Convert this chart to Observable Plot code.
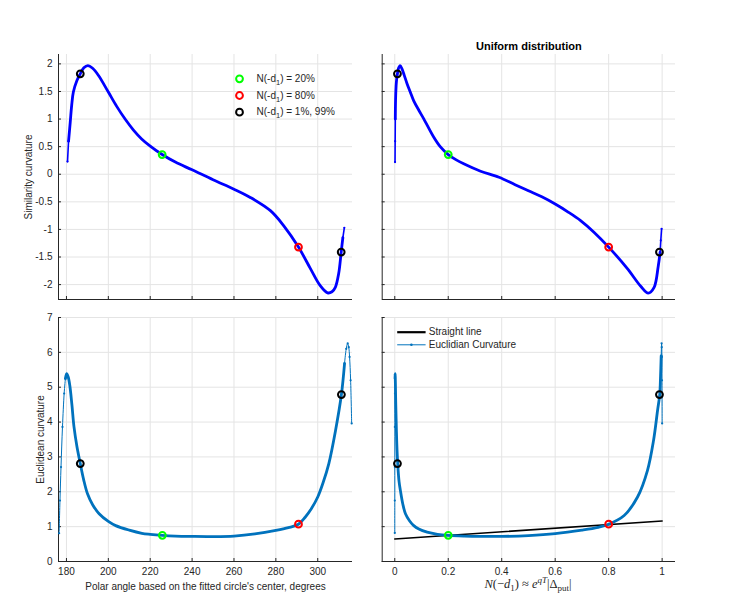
<!DOCTYPE html>
<html><head><meta charset="utf-8">
<script src="https://cdn.jsdelivr.net/npm/d3@7"></script>
<script src="https://cdn.jsdelivr.net/npm/@observablehq/plot@0.6"></script>
<style>
body{margin:0;background:#fff;}
#wrap{position:relative;width:734px;height:610px;background:#fff;font-family:"Liberation Sans",Arial,Helvetica,sans-serif;overflow:hidden;}
#wrap svg{position:absolute;overflow:visible;}
#xlab2{position:absolute;left:428px;width:200px;top:578px;text-align:center;font-family:"Liberation Serif","DejaVu Serif",serif;font-size:12.5px;color:#262626;line-height:12px;white-space:nowrap;}
#xlab2 sub{font-size:9px;vertical-align:-3px;line-height:0;}
#xlab2 sup{font-size:9px;vertical-align:5px;line-height:0;}
</style></head><body><div id="wrap"><div id="xlab2"><i>N</i>(&minus;<i>d</i><sub>1</sub>) &asymp; <i>e</i><sup><i>qT</i></sup>|&Delta;<sub>put</sub>|</div></div>
<script>
// ---------- data ----------
// Similarity curvature vs polar angle (top-left)
const simAngle = [180.5,181.0,181.8,182.5,183.3,185.0,186.6,188.3,190.2,192.5,195.3,200,204,208,212,215.9,220,225.7,232,240,250,260,267.8,277.4,283.7,290.8,296.5,301.2,304.7,306.8,308.4,310.0,311.2,312.0,312.7];
const simAngleVal = [0.23,0.6,0.94,1.25,1.49,1.7,1.82,1.93,1.97,1.92,1.79,1.49,1.23,1.0,0.8,0.64,0.51,0.357,0.22,0.08,-0.1,-0.27,-0.42,-0.66,-0.93,-1.32,-1.71,-2.02,-2.15,-2.13,-2.05,-1.80,-1.41,-1.15,-0.97];
// Similarity curvature vs N(-d1) (top-right)
const simN = [0.001,0.0015,0.002,0.003,0.005,0.007,0.01,0.014,0.02,0.027,0.035,0.046,0.058,0.071,0.09,0.109,0.146,0.17,0.2,0.23,0.258,0.321,0.39,0.45,0.5,0.55,0.6,0.65,0.695,0.745,0.8,0.87,0.92,0.948,0.97,0.985,0.9925,0.995,0.998];
const simNVal = [0.22,0.6,1.0,1.35,1.6,1.72,1.82,1.92,1.97,1.91,1.8,1.64,1.49,1.33,1.16,1.0,0.67,0.5,0.357,0.26,0.19,0.055,-0.055,-0.19,-0.3,-0.41,-0.54,-0.69,-0.84,-1.05,-1.32,-1.71,-2.03,-2.155,-2.05,-1.68,-1.41,-1.2,-0.99];
// Euclidean curvature vs polar angle (bottom-left)
const eucAngle = [176.5,176.9,177.4,178.1,178.9,179.5,180.1,180.8,181.6,182.6,183.6,185.0,186.6,188.2,190.0,192.5,195.6,200,203.5,210,216,220,225.8,232,240,250,260,270,280,286,290.8,294,297,300,302.5,305.3,308.5,311.3,312.8,313.6,314.3,314.8,315.2,315.7,316.2];
const eucAngleVal = [0.81,1.75,2.71,3.86,4.82,5.25,5.39,5.3,5.05,4.5,3.86,3.3,2.81,2.35,1.95,1.63,1.37,1.15,1.03,0.9,0.81,0.78,0.75,0.73,0.72,0.715,0.73,0.79,0.89,0.97,1.07,1.27,1.52,1.85,2.25,2.81,3.76,4.79,5.68,6.1,6.26,6.15,5.87,5.2,3.96];
// Euclidean curvature vs N(-d1) (bottom-right)
const eucN = [0,0.0001,0.0002,0.0004,0.0007,0.001,0.0013,0.0018,0.0025,0.0035,0.005,0.0075,0.011,0.016,0.021,0.03,0.04,0.055,0.071,0.09,0.121,0.16,0.2,0.26,0.32,0.4,0.5,0.6,0.7,0.76,0.8,0.858,0.908,0.945,0.968,0.983,0.991,0.994,0.9965,0.998,0.9985,0.999,0.9995,1.0];
const eucNVal = [0.82,1.75,2.71,3.86,4.82,5.25,5.39,5.3,5.05,4.6,4.1,3.4,2.81,2.3,2.04,1.65,1.37,1.17,1.03,0.93,0.84,0.78,0.75,0.73,0.72,0.72,0.745,0.8,0.9,0.98,1.07,1.32,1.85,2.61,3.48,4.34,4.79,5.3,5.9,6.26,6.15,5.87,5.2,3.96];
// straight line through the 20% and 80% points
const straightN = [0, 1];
const straightVal = [0.647, 1.163];
// highlighted points
const markerColors = ["#000000","#00ff00","#ff0000","#000000"];
const markAngleSim = [186.6, 225.7, 290.8, 311.2];
const markSimVal = [1.82, 0.357, -1.32, -1.41];
const markN = [0.01, 0.2, 0.8, 0.99];
const markAngleEuc = [186.6, 225.8, 290.8, 311.3];
const markEucVal = [2.81, 0.75, 1.07, 4.79];
// legends
const legendLabels = ["N(-d1) = 20%", "N(-d1) = 80%", "N(-d1) = 1%, 99%"];
const legendColors = ["#00ff00", "#ff0000", "#000000"];
const legend2Labels = ["Straight line", "Euclidian Curvature"];
// ticks
const angleTicks = [180,200,220,240,260,280,300];
const nTicks = [0,0.2,0.4,0.6,0.8,1];
const simTicks = [-2,-1.5,-1,-0.5,0,0.5,1,1.5,2];
const eucTicks = [0,1,2,3,4,5,6,7];

// ---------- drawing ----------
const INK = "#262626", GRID = "#e4e4e4", FONT = '"Liberation Sans", Arial, Helvetica, sans-serif';
const BLUE = "#0000ff", MBLUE = "#0072bd";
const zip = (xs, ys) => xs.map((x, i) => ({x, y: ys[i]}));
const wrap = document.getElementById("wrap");

function panel(o) {
  const fw = o.width - o.ml - o.mr, fh = o.height - o.mt - o.mb;
  const fmt = d => String(d);
  const marks = [
    Plot.gridX(o.xTicks, {stroke: GRID, strokeOpacity: 1}),
    Plot.gridY(o.yTicks, {stroke: GRID, strokeOpacity: 1}),
    Plot.tickX(o.xTicks, {x: d => d, stroke: INK, insetTop: fh - 3}),
    Plot.tickY(o.yTicks, {y: d => d, stroke: INK, insetRight: fw - 3}),
    Plot.ruleX([o.xDomain[0]], {stroke: INK}),
    Plot.ruleY([o.yDomain[0]], {stroke: INK})
  ];
  if (o.xLabels) marks.push(Plot.axisX(o.xTicks, {tickSize: 0, tickPadding: 6, tickFormat: fmt, label: null, fontSize: 10}));
  if (o.yLabels) marks.push(Plot.axisY(o.yTicks, {tickSize: 0, tickPadding: 6, tickFormat: fmt, label: null, fontSize: 10}));
  marks.push(...o.marks);
  const svg = Plot.plot({
    width: o.width, height: o.height,
    marginLeft: o.ml, marginRight: o.mr, marginTop: o.mt, marginBottom: o.mb,
    x: {domain: o.xDomain, axis: null},
    y: {domain: o.yDomain, axis: null},
    style: {fontFamily: FONT, fontSize: "10px", color: INK, background: "transparent", overflow: "visible"},
    marks
  });
  svg.style.left = o.left + "px";
  svg.style.top = o.top + "px";
  // subscripts in legend texts
  d3.select(svg).selectAll("text").each(function() {
    const t = this.textContent;
    if (/^N\(-d1\)/.test(t)) {
      const rest = t.replace(/^N\(-d1/, "");
      const sel = d3.select(this);
      sel.text("");
      sel.append("tspan").text("N(-d");
      sel.append("tspan").attr("dy", 3).attr("font-size", 7.5).text("1");
      sel.append("tspan").attr("dy", -3).text(rest);
    }
  });
  wrap.appendChild(svg);
}

function curveMarks(xs, ys, color, thickFrom, thickTo, thinWidth) {
  const pts = zip(xs, ys);
  const thick = pts.slice(thickFrom, thickTo + 1);
  const thinA = pts.slice(0, thickFrom + 1);
  const thinB = pts.slice(thickTo);
  return [
    Plot.line(thinA, {x: "x", y: "y", stroke: color, strokeWidth: thinWidth, curve: "catmull-rom"}),
    Plot.line(thinB, {x: "x", y: "y", stroke: color, strokeWidth: thinWidth, curve: "catmull-rom"}),
    Plot.dot(thinA.concat(thinB), {x: "x", y: "y", r: 1.1, fill: color, stroke: "none"}),
    Plot.line(thick, {x: "x", y: "y", stroke: color, strokeWidth: 2.8, curve: "catmull-rom"})
  ];
}
function circleMarks(xs, ys) {
  return [Plot.dot(zip(xs, ys).map((d, i) => ({...d, c: markerColors[i]})), {x: "x", y: "y", r: 3.4, stroke: "c", strokeWidth: 2, fill: "none"})];
}
const lineSym = {draw(ctx) { ctx.moveTo(-14.2, 0); ctx.lineTo(14.2, 0); }};

// top-left
panel({left: 0, top: 30, width: 367, height: 275, ml: 58, mr: 15, mt: 24, mb: 6,
  xDomain: [176.2, 316.6], yDomain: [-2.27, 2.17], xTicks: angleTicks, yTicks: simTicks,
  xLabels: false, yLabels: true,
  marks: [
    ...curveMarks(simAngle, simAngleVal, BLUE, 1, 33, 1.6),
    ...circleMarks(markAngleSim, markSimVal),
    ...legendLabels.map((l, i) => Plot.dot([l], {frameAnchor: "top-left", dx: 181, dy: 24.3 + i * 16.7, r: 3.4, stroke: legendColors[i], strokeWidth: 2, fill: "none"})),
    ...legendLabels.map((l, i) => Plot.text([l], {text: d => d, frameAnchor: "top-left", dx: 198, dy: 24.3 + i * 16.7, textAnchor: "start", lineAnchor: "middle", fontSize: 10, fill: INK})),
    Plot.text(["Similarity curvature"], {text: d => d, frameAnchor: "left", dx: -30, rotate: -90, textAnchor: "middle", lineAnchor: "middle", fontSize: 10, fill: INK})
  ]});

// top-right
panel({left: 367, top: 30, width: 367, height: 275, ml: 14.7, mr: 59, mt: 24, mb: 6,
  xDomain: [-0.047, 1.05], yDomain: [-2.27, 2.17], xTicks: nTicks, yTicks: simTicks,
  xLabels: false, yLabels: false,
  marks: [
    ...curveMarks(simN, simNVal, BLUE, 2, 36, 1.6),
    ...circleMarks(markN, markSimVal),
    Plot.text(["Uniform distribution"], {text: d => d, frameAnchor: "top", dy: -8, textAnchor: "middle", lineAnchor: "middle", fontSize: 11, fontWeight: "bold", fill: "#000"})
  ]});

// bottom-left
panel({left: 0, top: 305, width: 367, height: 305, ml: 58, mr: 15, mt: 12, mb: 49,
  xDomain: [176.2, 316.6], yDomain: [0, 7], xTicks: angleTicks, yTicks: eucTicks,
  xLabels: true, yLabels: true,
  marks: [
    ...curveMarks(eucAngle, eucAngleVal, MBLUE, 5, 38, 1),
    ...circleMarks(markAngleEuc, markEucVal),
    Plot.text(["Euclidean curvature"], {text: d => d, frameAnchor: "left", dx: -18, rotate: -90, textAnchor: "middle", lineAnchor: "middle", fontSize: 10, fill: INK}),
    Plot.text(["Polar angle based on the fitted circle's center, degrees"], {text: d => d, frameAnchor: "bottom", dy: 25, textAnchor: "middle", lineAnchor: "middle", fontSize: 10, fill: INK})
  ]});

// bottom-right
panel({left: 367, top: 305, width: 367, height: 305, ml: 14.7, mr: 59, mt: 12, mb: 49,
  xDomain: [-0.047, 1.05], yDomain: [0, 7], xTicks: nTicks, yTicks: eucTicks,
  xLabels: true, yLabels: false,
  marks: [
    Plot.line(zip(straightN, straightVal), {x: "x", y: "y", stroke: "#000", strokeWidth: 1.6}),
    ...curveMarks(eucN, eucNVal, MBLUE, 5, 38, 1),
    ...circleMarks(markN, markEucVal),
    Plot.dot([legend2Labels[0]], {frameAnchor: "top-left", dx: 29.2, dy: 14.7, symbol: lineSym, stroke: "#000", strokeWidth: 2.2, fill: "none"}),
    Plot.dot([legend2Labels[1]], {frameAnchor: "top-left", dx: 29.2, dy: 27.3, symbol: lineSym, stroke: MBLUE, strokeWidth: 1, fill: "none"}),
    Plot.dot([legend2Labels[1]], {frameAnchor: "top-left", dx: 29.2, dy: 27.3, r: 1.3, fill: MBLUE, stroke: "none"}),
    ...legend2Labels.map((l, i) => Plot.text([l], {text: d => d, frameAnchor: "top-left", dx: 46.6, dy: 14.7 + i * 12.6, textAnchor: "start", lineAnchor: "middle", fontSize: 10, fill: INK}))
  ]});
</script></body></html>
